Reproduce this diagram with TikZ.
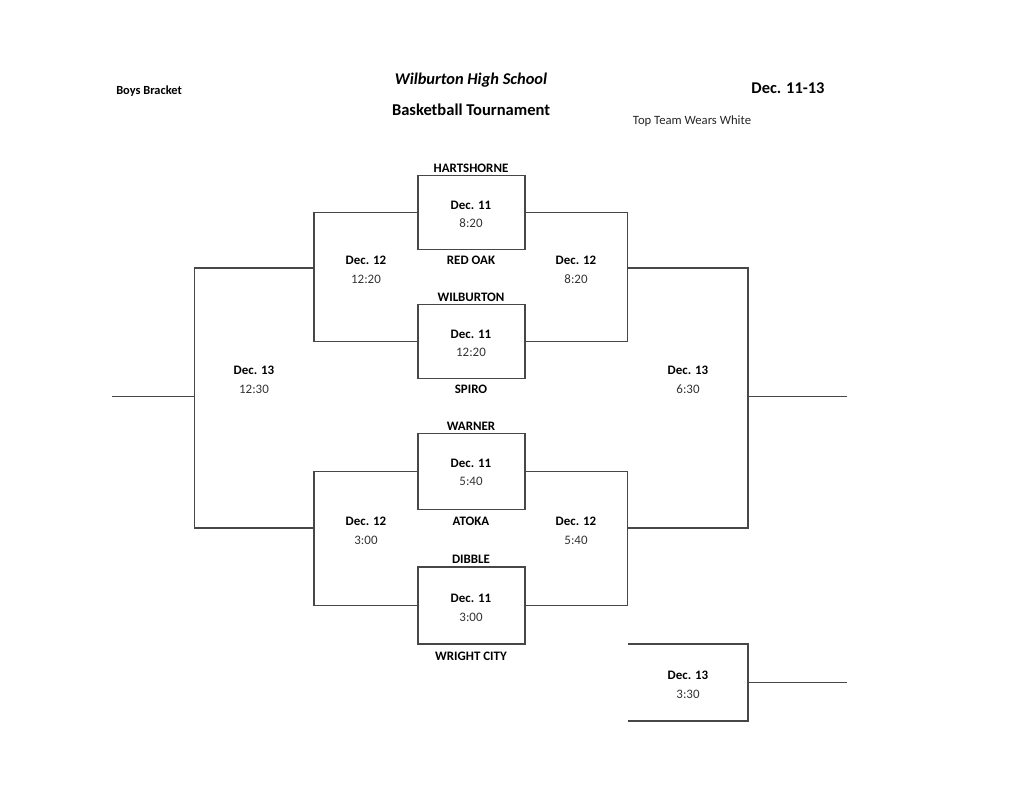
\documentclass[tikz,border=0pt]{standalone}
\usepackage{fontspec}
\setmainfont{Carlito}
\begin{document}
\begin{tikzpicture}[x=0.75pt,y=-0.75pt,
  ln/.style={draw=black!72,line width=0.85pt},
  gbox/.style={ln,minimum width=80.25pt,inner sep=0pt},
  team/.style={font=\fontsize{9.7}{11}\selectfont\bfseries,inner sep=0pt,anchor=center},
  dt/.style={font=\fontsize{9.7}{11}\selectfont\bfseries,inner sep=0pt,anchor=center},
  tm/.style={font=\fontsize{9.7}{11}\selectfont,text=black!80,inner sep=0pt,anchor=center}]
\useasboundingbox (0,0) rectangle (1024,791);
% headers
\node[font=\fontsize{9.3}{11}\selectfont\bfseries,anchor=west,inner sep=0pt] (hb) at (116,91) {Boys Bracket};
\node[font=\fontsize{12.3}{14}\selectfont\bfseries\itshape,inner sep=0pt] (hw) at (471,80) {Wilburton High School};
\node[font=\fontsize{12.4}{14}\selectfont\bfseries,inner sep=0pt] (ht) at (471,110) {Basketball Tournament};
\node[font=\fontsize{12.3}{14}\selectfont\bfseries,inner sep=0pt] (hd) at (788,88) {Dec. 11-13};
\node[font=\fontsize{9.5}{11}\selectfont,inner sep=0pt,text=black!85] (hw2) at (692,121) {Top Team Wears White};
% game boxes
\node[gbox,minimum height=55.5pt] (g1) at (471.5,212.5) {};
\node[gbox,minimum height=55.5pt] (g2) at (471.5,341.7) {};
\node[gbox,minimum height=57pt] (g3) at (471.5,471.3) {};
\node[gbox,minimum height=57.75pt] (g4) at (471.5,605.5) {};
% teams
\node[team] (t1) at (471,168) {HARTSHORNE};
\node[team] (t2) at (471,260) {RED OAK};
\node[team] (t3) at (471,297) {WILBURTON};
\node[team] (t4) at (471,389) {SPIRO};
\node[team] (t5) at (471,426) {WARNER};
\node[team] (t6) at (471,521) {ATOKA};
\node[team] (t7) at (471,559) {DIBBLE};
\node[team] (t8) at (471,656) {WRIGHT CITY};
% box texts
\node[dt] (d1) at (471,205) {Dec. 11}; \node[tm] (m1) at (471,223) {8:20};
\node[dt] (d2) at (471,334) {Dec. 11}; \node[tm] (m2) at (471,352) {12:20};
\node[dt] (d3) at (471,463) {Dec. 11}; \node[tm] (m3) at (471,481) {5:40};
\node[dt] (d4) at (471,598) {Dec. 11}; \node[tm] (m4) at (471,617) {3:00};
% bracket texts
\node[dt] (d5) at (366,260) {Dec. 12}; \node[tm] (m5) at (366,279) {12:20};
\node[dt] (d6) at (576,260) {Dec. 12}; \node[tm] (m6) at (576,279) {8:20};
\node[dt] (d7) at (254,370) {Dec. 13}; \node[tm] (m7) at (254,389) {12:30};
\node[dt] (d8) at (688,370) {Dec. 13}; \node[tm] (m8) at (688,389) {6:30};
\node[dt] (d9) at (366,521) {Dec. 12}; \node[tm] (m9) at (366,540) {3:00};
\node[dt] (d10) at (576,521) {Dec. 12}; \node[tm] (m10) at (576,540) {5:40};
\node[dt] (d11) at (688,675) {Dec. 13}; \node[tm] (m11) at (688,694) {3:30};
% coordinates
\coordinate (l1t) at (314,212.5); \coordinate (l1b) at (314,341.7); \coordinate (l1m) at (314,268);
\coordinate (l2t) at (314,471.3); \coordinate (l2b) at (314,605.5); \coordinate (l2m) at (314,528);
\coordinate (r1t) at (627.5,212.5); \coordinate (r1b) at (627.5,341.7); \coordinate (r1m) at (627.5,268);
\coordinate (r2t) at (627.5,471.3); \coordinate (r2b) at (627.5,605.5); \coordinate (r2m) at (627.5,528);
\coordinate (lot) at (194.5,268); \coordinate (lob) at (194.5,528); \coordinate (lom) at (194.5,396.5);
\coordinate (lend) at (111.5,396.5);
\coordinate (rot) at (748,268); \coordinate (rob) at (748,528); \coordinate (rom) at (748,396.5);
\coordinate (rend) at (847,396.5);
\coordinate (c1) at (627.5,644); \coordinate (c2) at (748,644); \coordinate (c3) at (748,721);
\coordinate (c4) at (627.5,721); \coordinate (cm) at (748,682.5); \coordinate (cend) at (847,682.5);
% connectors
\draw[ln] (g1.west) -- (l1t) -- (l1b) -- (g2.west);
\draw[ln] (g1.east) -- (r1t) -- (r1b) -- (g2.east);
\draw[ln] (g3.west) -- (l2t) -- (l2b) -- (g4.west);
\draw[ln] (g3.east) -- (r2t) -- (r2b) -- (g4.east);
\draw[ln] (l1m) -- (lot) -- (lob) -- (l2m);
\draw[ln] (lom) -- (lend);
\draw[ln] (r1m) -- (rot) -- (rob) -- (r2m);
\draw[ln] (rom) -- (rend);
\draw[ln] (c1) -- (c2) -- (c3) -- (c4);
\draw[ln] (cm) -- (cend);
\end{tikzpicture}
\end{document}
